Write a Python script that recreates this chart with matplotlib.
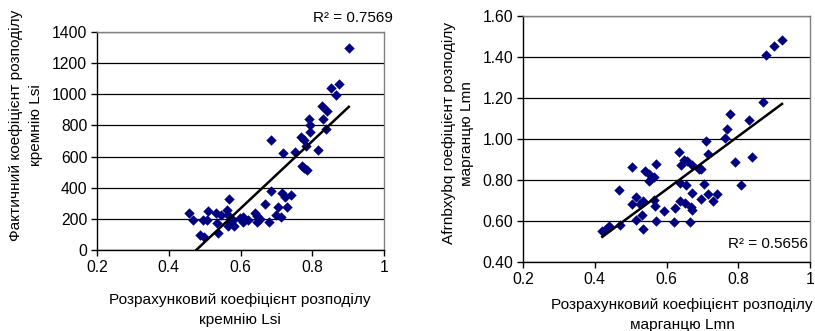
import matplotlib
matplotlib.use('Agg')
import matplotlib.pyplot as plt
import numpy as np

plt.rcParams['font.family'] = ['Liberation Sans', 'DejaVu Sans']

# Left chart: silicon distribution coefficient
lsi_calc = [0.902, 0.874, 0.853, 0.867, 0.826, 0.840, 0.829, 0.837, 0.790, 0.793,
            0.793, 0.770, 0.777, 0.782, 0.815, 0.751, 0.719, 0.685, 0.772, 0.777,
            0.784, 0.685, 0.716, 0.740, 0.725, 0.730, 0.705, 0.668, 0.699, 0.712,
            0.680, 0.569, 0.457, 0.467, 0.510, 0.506, 0.495, 0.532, 0.545, 0.562,
            0.566, 0.534, 0.538, 0.487, 0.497, 0.580, 0.582, 0.564, 0.571, 0.605,
            0.608, 0.606, 0.622, 0.640, 0.645, 0.645, 0.654, 0.599]
lsi_fact = [1300, 1065, 1040, 995, 926, 894, 840, 780, 843, 800,
            755, 725, 708, 665, 643, 630, 622, 708, 542, 525,
            512, 380, 364, 354, 339, 279, 274, 296, 225, 214,
            182, 328, 236, 193, 251, 193, 193, 236, 225, 257,
            225, 172, 107, 96, 81, 193, 154, 154, 182, 193,
            214, 178, 193, 240, 219, 182, 197, 204]
lsi_r2 = 'R² = 0.7569'

# Right chart: manganese distribution coefficient
lmn_calc = [0.922, 0.900, 0.878, 0.868, 0.831, 0.778, 0.769, 0.762, 0.711, 0.716,
            0.792, 0.838, 0.808, 0.634, 0.648, 0.657, 0.641, 0.671, 0.690, 0.697,
            0.704, 0.639, 0.653, 0.716, 0.741, 0.729, 0.697, 0.671, 0.639, 0.651,
            0.669, 0.671, 0.625, 0.620, 0.666, 0.592, 0.571, 0.567, 0.564, 0.535,
            0.525, 0.504, 0.516, 0.516, 0.532, 0.534, 0.467, 0.469, 0.439, 0.430,
            0.421, 0.504, 0.539, 0.552, 0.564, 0.558, 0.552, 0.572]
lmn_fact = [1.485, 1.452, 1.408, 1.180, 1.091, 1.124, 1.050, 1.007, 0.989, 0.925,
            0.888, 0.912, 0.774, 0.937, 0.899, 0.891, 0.875, 0.875, 0.855, 0.855,
            0.782, 0.785, 0.774, 0.733, 0.730, 0.696, 0.709, 0.737, 0.696, 0.688,
            0.668, 0.652, 0.665, 0.595, 0.595, 0.647, 0.600, 0.672, 0.704, 0.696,
            0.681, 0.681, 0.717, 0.603, 0.628, 0.563, 0.750, 0.582, 0.574, 0.563,
            0.551, 0.863, 0.844, 0.828, 0.815, 0.807, 0.795, 0.880]
lmn_r2 = 'R² = 0.5656'

x_ticks = [0.2, 0.4, 0.6, 0.8, 1.0]
x_tick_labels = ['0.2', '0.4', '0.6', '0.8', '1']
lsi_yticks = [0, 200, 400, 600, 800, 1000, 1200, 1400]
lmn_yticks = [0.40, 0.60, 0.80, 1.00, 1.20, 1.40, 1.60]

navy = '#000080'
grey = '#808080'

fig = plt.figure(figsize=(8.15, 3.31), dpi=100, facecolor='white')
ax1 = fig.add_axes([97 / 815, 1 - 250 / 331, 287 / 815, 218 / 331])
ax2 = fig.add_axes([523 / 815, 1 - 262 / 331, 287 / 815, 246 / 331])


def style_axes(ax, yticks, yfmt):
    ax.set_xlim(0.2, 1.0)
    ax.set_ylim(yticks[0], yticks[-1])
    ax.set_xticks(x_ticks)
    ax.set_xticklabels(x_tick_labels)
    ax.set_yticks(yticks)
    ax.set_yticklabels([yfmt.format(v) for v in yticks])
    ax.tick_params(direction='out', length=4, width=1, labelsize=11.3, pad=3)
    ax.yaxis.grid(True, color='black', linewidth=0.9)
    ax.set_axisbelow(True)
    for side in ('left', 'bottom'):
        ax.spines[side].set_color('black')
        ax.spines[side].set_linewidth(1)
    for side in ('top', 'right'):
        ax.spines[side].set_color(grey)
        ax.spines[side].set_linewidth(1)


def draw(ax, xs, ys):
    ax.scatter(xs, ys, marker='D', s=28, color=navy, linewidths=0, zorder=3)
    slope, intercept = np.polyfit(xs, ys, 1)
    x_line = np.array([min(xs), max(xs)])
    ax.plot(x_line, slope * x_line + intercept, color='black', linewidth=1.8, zorder=4)


def place_labels(ax, xlabel, ylabel, xpos, ypos, yspacing):
    ax.set_xlabel(xlabel, fontsize=11.1, linespacing=1.5)
    ax.set_ylabel(ylabel, fontsize=11.1, linespacing=yspacing)
    ax.xaxis.set_label_coords(*xpos)
    ax.yaxis.set_label_coords(*ypos)
    ax.xaxis.label.set_va('center')
    ax.yaxis.label.set_va('center')


style_axes(ax1, lsi_yticks, '{:.0f}')
draw(ax1, lsi_calc, lsi_fact)
place_labels(ax1, 'Розрахунковий коефіцієнт розподілу\nкремнію Lsi',
             'Фактичний коефіцієнт розподілу\nкремнію Lsi',
             (0.498, -0.275), (-0.247, 0.573), 1.6)
fig.text(353 / 815, 1 - 18 / 331, lsi_r2, fontsize=11, ha='center', va='center')

style_axes(ax2, lmn_yticks, '{:.2f}')
draw(ax2, lmn_calc, lmn_fact)
place_labels(ax2, 'Розрахунковий коефіцієнт розподілу\nмарганцю Lmn',
             'Afrnbxybq гоефіцієнт розподілу\nмарганцю Lmn',
             (0.554, -0.215), (-0.226, 0.524), 1.4)
fig.text(768 / 815, 1 - 244 / 331, lmn_r2, fontsize=11, ha='center', va='center')

fig.savefig('out.png', dpi=100, facecolor='white')
